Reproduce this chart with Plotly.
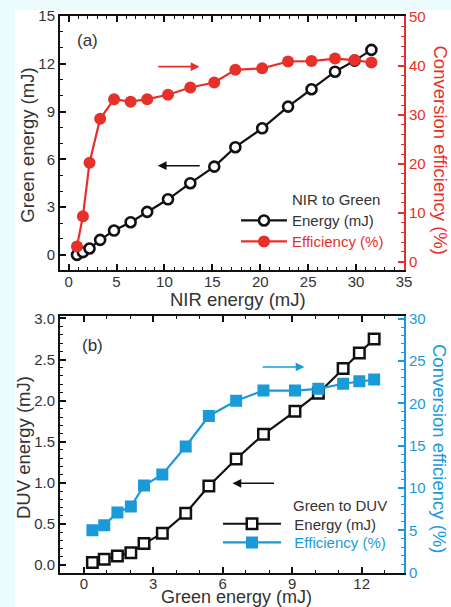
import plotly.graph_objects as go

# ---------------- data ----------------
nir_energy = [0.87, 1.49, 2.18, 3.29, 4.74, 6.47, 8.2, 10.37, 12.7, 15.2, 17.4, 20.2, 22.9, 25.35, 27.8, 29.85, 31.6]
green_energy_a = [0.0, 0.17, 0.4, 0.94, 1.53, 2.05, 2.7, 3.49, 4.5, 5.54, 6.76, 7.95, 9.31, 10.4, 11.5, 12.2, 12.87]
eff_a = [3.1, 9.3, 20.2, 29.2, 33.2, 32.7, 33.2, 34.1, 35.6, 36.6, 39.2, 39.5, 40.9, 41.0, 41.5, 41.2, 40.7]

green_energy_b = [0.37, 0.88, 1.45, 2.03, 2.6, 3.39, 4.4, 5.4, 6.58, 7.76, 9.12, 10.13, 11.2, 11.9, 12.54]
duv_energy = [0.03, 0.07, 0.11, 0.15, 0.26, 0.385, 0.63, 0.96, 1.29, 1.59, 1.87, 2.09, 2.39, 2.58, 2.75]
eff_b = [5.0, 5.6, 7.1, 7.8, 10.3, 11.6, 14.9, 18.5, 20.3, 21.5, 21.5, 21.7, 22.3, 22.6, 22.8]

W, H = 451, 607
BLACK = "#111111"
RED = "#e8302a"
BLUE = "#1b9ad8"
TXT = "#333333"
FONT = "Liberation Sans, Arial, sans-serif"


def px(x):
    return x / W


def py(y):
    return 1 - y / H


fig = go.Figure()

# panel (a)
fig.add_trace(go.Scatter(
    x=nir_energy, y=green_energy_a, xaxis="x", yaxis="y", mode="lines+markers",
    name="Energy (mJ)", legend="legend",
    line=dict(color=BLACK, width=2.2),
    marker=dict(symbol="circle", size=10, color="white", line=dict(color=BLACK, width=2.6)),
))
fig.add_trace(go.Scatter(
    x=nir_energy, y=eff_a, xaxis="x", yaxis="y2", mode="lines+markers",
    name="<span style='color:%s'>Efficiency (%%)</span>" % RED, legend="legend2",
    line=dict(color=RED, width=2.2),
    marker=dict(symbol="circle", size=12, color=RED, line=dict(color=RED, width=0)),
))
# panel (b)
fig.add_trace(go.Scatter(
    x=green_energy_b, y=duv_energy, xaxis="x2", yaxis="y3", mode="lines+markers",
    name="&nbsp;&nbsp;Energy (mJ)", legend="legend3",
    line=dict(color=BLACK, width=2.2),
    marker=dict(symbol="square", size=10.5, color="white", line=dict(color=BLACK, width=2.5)),
))
fig.add_trace(go.Scatter(
    x=green_energy_b, y=eff_b, xaxis="x2", yaxis="y4", mode="lines+markers",
    name="&nbsp;&nbsp;<span style='color:%s'>Efficiency (%%)</span>" % BLUE, legend="legend4",
    line=dict(color=BLUE, width=2.2),
    marker=dict(symbol="square", size=12, color=BLUE, line=dict(color=BLUE, width=0)),
))

dom_x = [px(60), px(404)]
dom_a = [py(270), py(16)]
dom_b = [py(572.7), py(316)]


def axis(color, rng, dtick, mdtick, **kw):
    d = dict(
        range=rng, showgrid=False, zeroline=False, showline=True, linecolor=color, linewidth=2,
        automargin=False,
        ticks="inside", ticklen=6, tickwidth=1.5, tickcolor=color, dtick=dtick, tick0=0,
        tickfont=dict(family=FONT, size=15, color=kw.pop("fontcolor", TXT)),
        minor=dict(ticks="inside", ticklen=3, tickwidth=1.3, tickcolor=color, dtick=mdtick),
    )
    d.update(kw)
    return d


def leg(x, y, iw):
    return dict(x=px(x), y=py(y), xanchor="left", yanchor="middle", bgcolor="rgba(0,0,0,0)",
                itemwidth=iw, font=dict(family=FONT, size=15, color=TXT), tracegroupgap=0)


fig.update_layout(
    width=W, height=H, margin=dict(l=0, r=0, t=0, b=0, autoexpand=False),
    paper_bgcolor="#ecfbfb", plot_bgcolor="white",
    font=dict(family=FONT, size=15, color=TXT),
    showlegend=True,
    xaxis=axis(BLACK, [-0.9, 35], 5, 1, domain=dom_x, anchor="y", mirror="ticks", ticklabelstandoff=-3),
    yaxis=axis(BLACK, [-0.95, 15], 3, 1, domain=dom_a, anchor="x"),
    yaxis2=axis(RED, [-1.7, 50.2], 10, 2, overlaying="y", side="right", anchor="x", fontcolor=RED),
    xaxis2=axis(BLACK, [-1.03, 13.83], 3, 1, domain=dom_x, anchor="y3", mirror="ticks", ticklabelstandoff=-4),
    yaxis3=axis(BLACK, [-0.094, 3.03], 0.5, 0.1, domain=dom_b, anchor="x2", tickformat=".1f"),
    yaxis4=axis(BLUE, [0, 30.3], 5, 1, overlaying="y3", side="right", anchor="x2", fontcolor=BLUE),
    legend=leg(236, 220.7, 46),
    legend2=leg(236, 241.7, 46),
    legend3=leg(218, 524, 58),
    legend4=leg(218, 542.7, 58),
)

# white background panel
fig.add_shape(type="rect", xref="paper", yref="paper", x0=px(15), x1=1, y0=0, y1=py(10),
              fillcolor="white", line=dict(width=0), layer="below")

ann = []


def text(x, y, s, size=15, color=TXT, angle=0, xanchor="center"):
    ann.append(dict(x=px(x), y=py(y), xref="paper", yref="paper", text=s, showarrow=False,
                    font=dict(family=FONT, size=size, color=color), textangle=angle,
                    xanchor=xanchor, yanchor="middle", borderpad=0))


text(26.7, 145, "Green energy (mJ)", 18.5, TXT, -90)
text(440.5, 150, "Conversion efficiency (%)", 18.5, RED, 90)
text(237.5, 299, "NIR energy (mJ)", 18.5)
text(23, 448, "DUV energy (mJ)", 18.5, TXT, -90)
text(440, 448, "Conversion efficiency (%)", 18.5, BLUE, 90)
text(236, 596.5, "Green energy (mJ)", 18)
text(87.5, 40.7, "(a)", 17)
text(92.5, 345, "(b)", 17)
text(290.5, 199.3, "NIR to Green", 15, TXT, 0, "left")
text(292, 505, "Green to DUV", 15, TXT, 0, "left")


def arrow(xr, yr, x0, x1, y, color):
    ann.append(dict(x=x1, y=y, ax=x0, ay=y, xref=xr, yref=yr, axref=xr, ayref=yr, text="",
                    showarrow=True, arrowhead=2, arrowsize=1.1, arrowwidth=1.6, arrowcolor=color,
                    standoff=0, startstandoff=0))


arrow("x", "y", 9.2, 13.66, 11.82, RED)
arrow("x", "y", 13.84, 9.3, 5.6, BLACK)
arrow("x2", "y3", 7.66, 9.53, 2.41, BLUE)
arrow("x2", "y3", 8.28, 6.42, 0.994, BLACK)

fig.update_layout(annotations=ann)
fig.write_html("out.html", config={"displayModeBar": False},
               post_script="document.body.style.margin='0px';")
